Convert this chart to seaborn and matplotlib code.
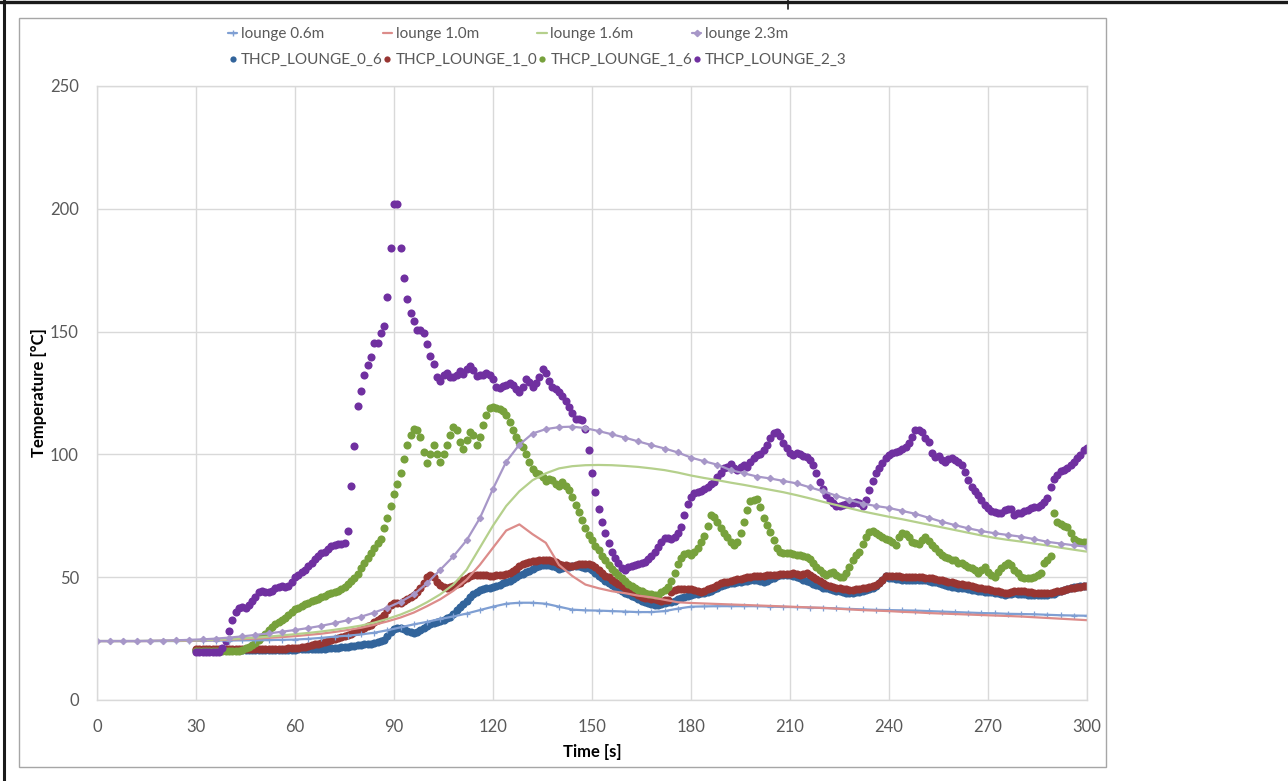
import numpy as np
import matplotlib
matplotlib.use("Agg")
import matplotlib.pyplot as plt
import seaborn as sns
from matplotlib.lines import Line2D
from matplotlib.patches import Rectangle

# ---------------------------------------------------------------
# Simulation results (FDS devices), stored every 4 s from t = 0 s
# ---------------------------------------------------------------
sim_step = 4
lounge_06 = [
    24.0, 24.0, 24.0, 24.0, 24.0, 24.0, 24.0, 24.1, 24.1, 24.2,
    24.2, 24.3, 24.3, 24.4, 24.5, 24.6, 24.9, 25.3, 25.8, 26.2,
    26.7, 27.4, 28.4, 29.6, 30.8, 31.8, 33.0, 34.0, 35.2, 36.6,
    38.0, 39.2, 39.6, 39.6, 39.2, 38.0, 36.8, 36.5, 36.4, 36.2,
    36.0, 35.8, 35.8, 36.2, 37.2, 38.0, 38.1, 38.2, 38.2, 38.2,
    38.2, 38.0, 37.9, 37.8, 37.6, 37.5, 37.3, 37.1, 36.9, 36.7,
    36.6, 36.5, 36.4, 36.2, 36.0, 35.8, 35.6, 35.4, 35.3, 35.1,
    35.0, 34.9, 34.7, 34.5, 34.4, 34.3,
]
lounge_10 = [
    24.0, 24.0, 24.0, 24.0, 24.0, 24.1, 24.1, 24.2, 24.3, 24.4,
    24.6, 24.8, 25.0, 25.3, 25.6, 26.0, 26.5, 27.0, 27.7, 28.5,
    29.4, 30.6, 32.0, 33.6, 35.6, 38.2, 41.0, 44.5, 49.0, 55.0,
    62.0, 69.0, 71.5, 67.5, 64.0, 55.0, 50.5, 47.0, 45.5, 44.3,
    43.5, 42.5, 41.8, 40.8, 39.8, 39.5, 39.3, 39.1, 38.9, 38.7,
    38.5, 38.3, 38.1, 37.9, 37.7, 37.5, 37.2, 36.9, 36.6, 36.4,
    36.2, 35.9, 35.7, 35.4, 35.2, 35.0, 34.8, 34.6, 34.4, 34.2,
    34.0, 33.7, 33.4, 33.1, 32.8, 32.5,
]
lounge_16 = [
    24.0, 24.0, 24.0, 24.0, 24.1, 24.1, 24.2, 24.3, 24.4, 24.6,
    24.8, 25.1, 25.4, 25.8, 26.3, 26.8, 27.3, 27.9, 28.6, 29.4,
    30.3, 31.5, 33.0, 34.8, 37.0, 39.8, 43.0, 47.0, 53.0, 62.0,
    71.0, 79.0, 85.0, 89.5, 92.3, 94.3, 95.2, 95.6, 95.7, 95.6,
    95.3, 94.9, 94.3, 93.6, 92.6, 91.4, 90.4, 89.5, 88.5, 87.6,
    86.6, 85.6, 84.6, 83.4, 82.1, 80.7, 79.4, 78.1, 76.8, 75.7,
    74.6, 73.6, 72.5, 71.4, 70.3, 69.2, 68.1, 67.0, 66.0, 65.2,
    64.5, 63.7, 62.9, 62.0, 61.2, 60.4,
]
lounge_23 = [
    24.0, 24.0, 24.0, 24.0, 24.1, 24.2, 24.3, 24.5, 24.7, 25.0,
    25.4, 25.9, 26.5, 27.1, 27.8, 28.5, 29.3, 30.2, 31.3, 32.5,
    33.9, 35.6, 37.6, 40.0, 43.0, 47.5, 53.0, 58.5, 65.0, 74.0,
    86.0, 97.0, 104.0, 108.5, 110.3, 111.1, 111.3, 110.7, 109.5, 108.2,
    106.8, 105.3, 103.8, 102.4, 100.8, 98.7, 97.2, 95.8, 93.6, 92.3,
    91.0, 90.2, 89.2, 88.2, 86.6, 85.0, 83.2, 81.5, 80.0, 79.0,
    78.2, 77.0, 75.8, 74.2, 72.6, 71.2, 69.9, 68.8, 67.9, 67.2,
    66.5, 65.5, 64.4, 63.7, 63.0, 62.4,
]

# ---------------------------------------------------------------
# Thermocouple measurements, 1 s logging from t = 30 s
# ---------------------------------------------------------------
meas_start = 30
thcp_06 = [
    20.2, 20.2, 20.2, 20.2, 20.2, 20.2, 20.2, 20.2, 20.2, 20.2,
    20.2, 20.2, 20.2, 20.2, 20.3, 20.3, 20.3, 20.3, 20.3, 20.3,
    20.4, 20.4, 20.4, 20.4, 20.4, 20.4, 20.4, 20.5, 20.5, 20.5,
    20.5, 20.6, 20.6, 20.6, 20.7, 20.7, 20.8, 20.8, 20.9, 20.9,
    21.0, 21.1, 21.2, 21.3, 21.4, 21.5, 21.7, 21.8, 22.0, 22.2,
    22.4, 22.6, 22.8, 23.0, 23.2, 23.5, 23.9, 24.4, 26.0, 27.8,
    29.0, 29.3, 29.2, 28.8, 28.2, 27.8, 27.4, 27.8, 28.5, 29.5,
    30.3, 30.8, 31.3, 31.8, 32.3, 32.7, 33.2, 33.8, 35.0, 36.5,
    37.8, 39.0, 40.3, 41.8, 43.0, 44.1, 44.6, 45.0, 45.4, 45.8,
    46.1, 46.5, 47.0, 47.5, 48.0, 48.5, 49.3, 50.0, 50.7, 51.3,
    52.0, 52.7, 53.4, 54.0, 54.5, 55.0, 55.0, 54.8, 54.5, 54.0,
    53.3, 53.6, 54.0, 54.3, 54.5, 54.6, 54.6, 54.2, 53.8, 53.6,
    52.8, 51.6, 50.5, 49.5, 48.6, 47.8, 46.9, 46.1, 45.2, 44.4,
    43.7, 43.0, 42.4, 41.8, 41.1, 40.4, 39.9, 39.4, 39.0, 38.7,
    38.8, 39.1, 39.5, 39.8, 40.1, 40.4, 41.0, 41.7, 42.0, 42.3,
    42.7, 43.0, 43.2, 43.4, 43.6, 43.8, 44.4, 45.1, 45.7, 46.4,
    46.8, 47.2, 47.5, 47.8, 47.9, 48.0, 48.3, 48.6, 48.8, 48.9,
    48.7, 48.4, 48.2, 48.6, 49.1, 49.7, 50.4, 50.7, 50.9, 50.9,
    50.9, 50.6, 50.1, 49.6, 49.0, 48.5, 48.0, 47.4, 46.9, 46.3,
    45.8, 45.4, 45.1, 44.8, 44.5, 44.2, 43.9, 43.7, 43.7, 43.7,
    43.9, 44.1, 44.4, 44.8, 45.1, 45.5, 46.3, 47.5, 49.0, 50.5,
    49.8, 49.5, 49.3, 49.1, 49.0, 48.9, 48.9, 48.9, 48.9, 48.9,
    48.9, 48.7, 48.5, 48.2, 47.9, 47.6, 47.3, 46.9, 46.6, 46.2,
    46.0, 45.8, 45.6, 45.4, 45.2, 44.9, 44.7, 44.5, 44.2, 44.0,
    43.9, 43.8, 43.7, 43.4, 43.1, 42.8, 43.0, 43.2, 43.4, 43.2,
    43.1, 43.0, 42.9, 42.8, 42.8, 42.8, 42.8, 42.8, 42.9, 43.1,
    43.3, 43.8, 44.4, 44.9, 45.2, 45.6, 46.0, 46.2, 46.3, 46.4,
    46.4,
]
thcp_10 = [
    20.7, 20.7, 20.7, 20.7, 20.7, 20.7, 20.7, 20.7, 20.7, 20.7,
    20.7, 20.7, 20.7, 20.7, 20.7, 20.7, 20.7, 20.7, 20.7, 20.7,
    20.7, 20.7, 20.7, 20.7, 20.7, 20.8, 20.8, 20.9, 21.0, 21.0,
    21.1, 21.3, 21.5, 21.7, 22.0, 22.3, 22.6, 22.9, 23.2, 23.6,
    24.0, 24.4, 24.9, 25.3, 25.7, 26.2, 26.6, 27.0, 27.5, 28.0,
    28.6, 29.3, 30.0, 30.7, 31.6, 32.5, 33.5, 34.8, 36.5, 38.5,
    39.5, 39.6, 39.5, 40.2, 41.0, 41.8, 42.7, 44.0, 45.4, 47.5,
    50.0, 51.0, 50.0, 48.2, 46.8, 46.1, 45.8, 46.0, 46.6, 47.2,
    47.8, 48.8, 49.8, 50.4, 50.9, 51.0, 51.0, 51.0, 50.8, 50.6,
    50.6, 50.8, 51.0, 51.0, 51.2, 51.6, 52.5, 53.5, 54.5, 55.3,
    55.8, 56.2, 56.5, 56.7, 56.9, 57.0, 57.0, 56.8, 56.5, 56.0,
    55.5, 55.0, 55.0, 54.7, 54.5, 54.8, 55.2, 55.4, 55.5, 55.4,
    55.0, 54.0, 53.0, 51.8, 50.6, 49.9, 49.0, 48.2, 47.3, 46.4,
    45.6, 44.8, 44.1, 43.4, 42.7, 42.1, 41.7, 41.4, 41.2, 41.0,
    40.7, 40.4, 40.6, 40.7, 44.1, 44.6, 45.1, 45.1, 45.1, 45.1,
    45.1, 44.8, 44.4, 44.1, 44.5, 45.0, 45.5, 46.2, 46.8, 47.5,
    47.9, 48.2, 48.5, 48.8, 49.1, 49.4, 49.7, 50.0, 50.2, 50.4,
    50.4, 50.5, 50.6, 50.7, 50.8, 50.9, 51.0, 51.1, 51.3, 51.4,
    51.5, 51.6, 51.3, 51.0, 51.3, 51.8, 50.8, 50.0, 49.2, 48.3,
    47.6, 46.9, 46.4, 46.1, 45.8, 45.5, 45.3, 45.1, 44.9, 44.8,
    45.0, 45.3, 45.5, 45.8, 46.1, 46.4, 46.8, 47.5, 49.0, 50.3,
    50.4, 50.5, 50.4, 50.3, 50.2, 50.1, 50.0, 49.9, 49.9, 49.9,
    49.9, 49.8, 49.7, 49.5, 49.3, 49.0, 48.7, 48.4, 48.1, 47.9,
    47.6, 47.4, 47.2, 47.0, 46.7, 46.4, 46.1, 45.8, 45.5, 45.2,
    45.0, 44.8, 44.5, 44.2, 43.8, 43.4, 43.7, 44.1, 44.3, 44.5,
    44.5, 44.4, 44.1, 43.8, 43.6, 43.5, 43.4, 43.5, 43.6, 43.7,
    43.9, 44.2, 44.5, 44.8, 45.1, 45.4, 45.6, 45.9, 46.1, 46.4,
    46.6,
]
thcp_16 = [
    19.8, 19.8, 19.8, 19.8, 19.8, 19.8, 19.8, 19.8, 19.8, 19.8,
    19.8, 19.8, 19.9, 20.0, 20.3, 21.0, 21.4, 22.4, 23.3, 24.4,
    25.5, 26.9, 28.5, 29.8, 30.9, 31.9, 32.6, 33.2, 34.6, 36.0,
    36.9, 37.6, 38.3, 39.1, 39.6, 40.3, 40.7, 41.1, 41.8, 42.5,
    43.0, 43.4, 43.8, 44.5, 45.1, 46.1, 47.1, 48.5, 49.6, 51.3,
    53.6, 55.7, 58.0, 60.0, 62.0, 64.0, 65.5, 70.0, 74.0, 79.0,
    84.0, 88.0, 92.5, 98.0, 104.0, 108.0, 110.5, 110.0, 107.0, 101.0,
    96.5, 100.0, 104.0, 100.0, 97.0, 100.0, 104.0, 108.0, 111.0, 110.0,
    105.0, 102.0, 106.0, 109.0, 108.0, 104.0, 107.0, 112.0, 116.0, 119.0,
    119.5, 119.0, 118.5, 117.5, 116.0, 113.0, 110.0, 107.0, 105.0, 103.0,
    100.0, 97.0, 94.0, 92.5, 92.0, 91.0, 89.0, 90.0, 89.5, 88.0,
    87.0, 88.9, 87.0, 85.5, 82.5, 79.5, 76.7, 73.3, 69.9, 67.2,
    65.1, 62.9, 60.9, 58.8, 56.8, 55.0, 53.5, 52.2, 50.8, 49.5,
    48.3, 47.3, 46.4, 45.6, 44.9, 44.2, 43.6, 43.2, 43.0, 42.8,
    42.8, 44.1, 44.8, 46.0, 48.5, 51.6, 55.3, 58.0, 59.5, 60.0,
    59.1, 60.4, 62.0, 64.5, 66.8, 71.0, 75.3, 74.6, 72.5, 70.0,
    67.8, 66.3, 64.5, 63.0, 64.5, 68.0, 72.5, 77.5, 81.0, 81.5,
    81.7, 78.5, 74.0, 71.3, 68.5, 65.1, 61.8, 60.4, 59.7, 59.7,
    60.0, 59.5, 59.1, 59.1, 58.8, 58.4, 57.3, 55.9, 54.3, 52.9,
    51.9, 50.9, 51.6, 52.3, 50.9, 50.2, 50.2, 51.6, 54.3, 57.0,
    59.1, 60.4, 63.5, 66.5, 68.5, 68.9, 68.1, 67.2, 66.5, 65.4,
    65.1, 64.5, 63.1, 66.2, 68.1, 67.6, 66.5, 64.5, 64.0, 63.5,
    65.1, 66.2, 64.9, 63.1, 61.8, 60.4, 59.1, 58.4, 57.7, 57.0,
    57.0, 55.9, 55.6, 55.0, 54.3, 53.6, 52.9, 51.6, 52.9, 54.3,
    52.3, 50.9, 50.2, 52.3, 53.6, 55.0, 55.9, 55.0, 52.9, 51.6,
    50.2, 49.8, 49.6, 49.6, 50.2, 50.9, 51.9, 55.6, 57.0, 58.6,
    76.0, 72.6, 71.7, 70.8, 70.6, 68.1, 65.4, 64.9, 64.5, 64.5,
    64.3,
]
thcp_23 = [
    19.7, 19.7, 19.7, 19.7, 19.7, 19.7, 19.7, 19.7, 21.0, 24.0,
    28.0, 32.6, 36.0, 37.3, 37.7, 37.6, 38.7, 40.4, 42.0, 43.8,
    44.4, 44.1, 43.8, 44.4, 45.4, 46.1, 46.4, 45.9, 46.4, 48.2,
    50.2, 50.9, 52.2, 52.9, 54.6, 55.7, 57.5, 58.6, 60.0, 60.2,
    61.5, 62.7, 63.0, 63.5, 63.7, 64.0, 69.0, 87.0, 103.5, 119.8,
    125.8, 132.3, 136.3, 139.8, 145.4, 145.4, 149.3, 152.3, 164.1, 184.2,
    201.8, 201.8, 184.2, 171.7, 163.3, 157.4, 154.3, 150.8, 150.5, 149.3,
    145.0, 140.0, 136.7, 131.4, 130.0, 132.5, 133.0, 131.7, 131.4, 132.3,
    134.0, 132.7, 134.6, 136.0, 134.4, 132.0, 132.3, 132.5, 133.3, 132.3,
    130.6, 127.3, 126.9, 127.9, 128.4, 128.9, 128.4, 126.6, 125.4, 127.6,
    130.6, 129.6, 127.6, 128.9, 131.6, 134.6, 133.0, 129.9, 127.3, 126.5,
    125.5, 123.8, 121.9, 119.4, 117.0, 114.5, 114.5, 114.0, 110.2, 101.8,
    92.3, 84.8, 77.6, 72.6, 67.9, 63.8, 60.4, 57.7, 55.6, 53.6,
    52.9, 54.3, 54.7, 55.0, 55.4, 55.6, 56.3, 57.3, 58.6, 60.4,
    62.5, 64.5, 65.8, 66.1, 65.4, 66.2, 67.9, 70.6, 75.3, 79.8,
    82.8, 84.4, 84.8, 85.2, 85.8, 86.9, 87.9, 88.9, 90.9, 92.6,
    94.3, 95.0, 96.1, 94.5, 93.7, 95.0, 95.7, 95.0, 97.0, 98.4,
    99.8, 100.2, 101.8, 103.8, 106.5, 108.6, 109.0, 107.5, 104.8, 102.5,
    100.4, 99.8, 100.7, 100.0, 99.4, 99.1, 97.7, 95.7, 92.3, 88.9,
    85.8, 83.5, 81.4, 80.1, 79.0, 79.0, 79.4, 79.8, 79.7, 80.4,
    80.6, 80.1, 79.0, 81.4, 85.5, 89.3, 92.6, 94.3, 96.4, 98.4,
    99.8, 100.4, 101.1, 101.5, 102.1, 103.2, 104.8, 107.2, 110.0, 110.0,
    109.3, 106.5, 105.2, 100.7, 99.1, 99.4, 97.7, 97.0, 98.0, 98.4,
    97.7, 97.0, 95.7, 93.0, 89.6, 86.9, 85.2, 83.5, 81.4, 79.4,
    78.1, 77.1, 76.7, 76.0, 76.3, 77.4, 77.6, 77.6, 75.3, 76.0,
    76.3, 77.0, 77.4, 78.1, 78.5, 78.7, 79.4, 80.5, 82.1, 86.6,
    89.9, 91.6, 93.4, 93.7, 94.3, 95.7, 97.0, 98.5, 99.8, 101.8,
    102.5,
]

# Axis ticks and labels
x_ticks = list(range(0, 301, 30))
y_ticks = list(range(0, 251, 50))
x_label = "Time [s]"
y_label = "Temperature [°C]"

sim_series = [
    ("lounge 0.6m", lounge_06, "#7f9fd3", "+", 4.5),
    ("lounge 1.0m", lounge_10, "#dc8c8a", "", 0),
    ("lounge 1.6m", lounge_16, "#b5d08c", "", 0),
    ("lounge 2.3m", lounge_23, "#a797c8", "D", 3.2),
]
meas_series = [
    ("THCP_LOUNGE_0_6", thcp_06, "#32649b"),
    ("THCP_LOUNGE_1_0", thcp_10, "#983532"),
    ("THCP_LOUNGE_1_6", thcp_16, "#77a13c"),
    ("THCP_LOUNGE_2_3", thcp_23, "#7030a0"),
]

sns.set_theme(style="white")
plt.rcParams["font.family"] = ["Lato", "DejaVu Sans"]

W, H = 1288, 781
fig = plt.figure(figsize=(W / 100, H / 100), dpi=100)
ax = fig.add_axes([97 / W, 1 - 700 / H, 990 / W, 614 / H])

grid_c = "#d9d9d9"
text_c = "#595959"

# Simulation curves
for name, vals, col, mk, ms in sim_series:
    t = np.arange(len(vals)) * sim_step
    kw = dict(marker=mk, markersize=ms, markeredgewidth=0.9,
              markeredgecolor=col, markerfacecolor=col) if mk else {}
    sns.lineplot(x=t, y=vals, color=col, linewidth=1.6, ax=ax,
                 legend=False, **kw)

# Thermocouple readings
for name, vals, col in meas_series:
    t = meas_start + np.arange(len(vals))
    sns.scatterplot(x=t, y=vals, color=col, s=34, linewidth=0,
                    ax=ax, legend=False)

ax.set_xlim(0, 300)
ax.set_ylim(0, 250)
ax.set_xticks(x_ticks)
ax.set_yticks(y_ticks)
ax.grid(True, color=grid_c, linewidth=1.0)
ax.set_axisbelow(True)
for sp in ax.spines.values():
    sp.set_color(grid_c)
    sp.set_linewidth(1.0)
ax.tick_params(axis="both", length=0, labelsize=12, colors=text_c)
ax.tick_params(axis="x", pad=14)
ax.tick_params(axis="y", pad=13)
ax.set_xlabel(x_label, fontsize=12, fontweight="bold", color="#000000",
              labelpad=6)
ax.set_ylabel(y_label, fontsize=12, fontweight="bold", color="#000000",
              labelpad=2)

# Legend: simulations on the first row, measurements on the second
handles, labels = [], []
for (sn, _, sc, smk, sms), (mn, _, mc) in zip(sim_series, meas_series):
    handles.append(Line2D([0], [0], color=sc, linewidth=1.6,
                          marker=smk if smk else None, markersize=sms,
                          markeredgecolor=sc, markerfacecolor=sc))
    labels.append(sn)
    handles.append(Line2D([0], [0], linestyle="none", marker="o",
                          markersize=4.5, color=mc, markeredgewidth=0))
    labels.append(mn)

leg = fig.legend(handles, labels, ncol=4, loc="upper left",
                 bbox_to_anchor=(228 / W, 1 - 27 / H), frameon=False,
                 fontsize=11, handlelength=0.6, handletextpad=0.25,
                 columnspacing=0.0, labelspacing=0.8, borderpad=0,
                 borderaxespad=0)
for txt in leg.get_texts():
    txt.set_color(text_c)

# Chart area outline and sheet borders
fig.add_artist(Rectangle((19 / W, 1 - 767 / H), (1106 - 19) / W,
                         (767 - 18) / H, transform=fig.transFigure,
                         fill=False, edgecolor="#a6a6a6", linewidth=1.0))
fig.add_artist(Line2D([4 / W, 4 / W], [0, 1], transform=fig.transFigure,
                      color="#1a1a1a", linewidth=2.2))
fig.add_artist(Line2D([0, 1], [1 - 1.5 / H, 1 - 1.5 / H],
                      transform=fig.transFigure, color="#1a1a1a",
                      linewidth=2.4))
fig.add_artist(Line2D([788 / W, 788 / W], [1, 1 - 9 / H],
                      transform=fig.transFigure, color="#1a1a1a",
                      linewidth=1.2))

fig.savefig("out.png", dpi=100, facecolor="white")
